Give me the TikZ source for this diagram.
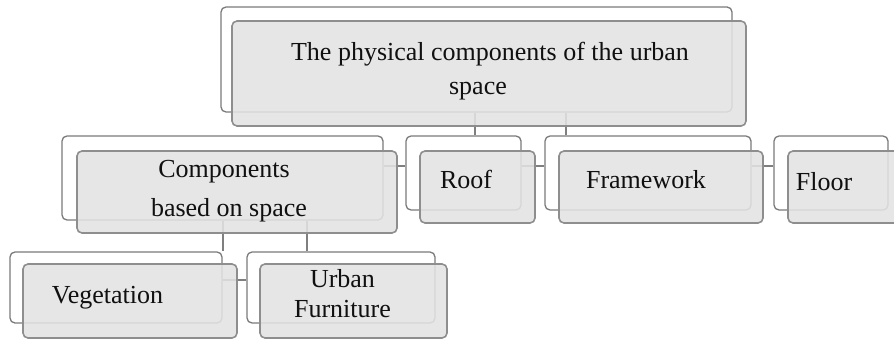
\documentclass[tikz,border=0pt]{standalone}
\usepackage{fontspec}
\setmainfont{Liberation Serif}
\definecolor{boxline}{HTML}{7A7A7A}
\definecolor{frontline}{HTML}{8E8E8E}
\definecolor{frontfill}{HTML}{E3E3E3}
\definecolor{connline}{HTML}{7F7F7F}
\definecolor{txt}{HTML}{101010}
\begin{document}
\begin{tikzpicture}[x=1pt,y=-1pt,
  backbox/.style={draw=boxline, line width=1.3pt, fill=white, rounded corners=5pt, inner sep=0pt},
  frontbox/.style={draw=frontline, line width=1.6pt, fill=frontfill, fill opacity=0.88, rounded corners=5pt, inner sep=0pt},
  conn/.style={draw=connline, line width=2pt},
  lbl/.style={font=\fontsize{26}{30}\selectfont, inner sep=0pt, align=center, text=txt}]
\useasboundingbox (0,0) rectangle (894,340);
% back boxes
\node[backbox, minimum width=511, minimum height=105] (tB) at (476.5,59.5) {};
\node[backbox, minimum width=321, minimum height=84] (cB) at (222.5,178) {};
\node[backbox, minimum width=115, minimum height=74] (rB) at (463.5,173) {};
\node[backbox, minimum width=206, minimum height=74] (fB) at (648,173) {};
\node[backbox, minimum width=114, minimum height=74] (lB) at (831,173) {};
\node[backbox, minimum width=212, minimum height=71] (vB) at (116,287.5) {};
\node[backbox, minimum width=188, minimum height=71] (uB) at (341,287.5) {};
% connectors
\draw[conn] ([xshift=11.5pt]rB.north) -- ([xshift=11.5pt]rB.north |- tB.south);
\draw[conn] ([xshift=-82pt]fB.north) -- ([xshift=-82pt]fB.north |- tB.south);
\draw[conn] ([yshift=7pt]rB.west) -- ([yshift=7pt]rB.west -| cB.east);
\draw[conn] ([yshift=7pt]fB.west) -- ([yshift=7pt]fB.west -| rB.east);
\draw[conn] ([yshift=7pt]lB.west) -- ([yshift=7pt]lB.west -| fB.east);
\draw[conn] (cB.south) -- (cB.south |- vB.north);
\draw[conn] ([xshift=-34pt]uB.north) -- ([xshift=-34pt]uB.north |- cB.south);
\draw[conn] ([yshift=7.5pt]uB.west) -- ([yshift=7.5pt]uB.west -| vB.east);
% front boxes
\node[frontbox, minimum width=514, minimum height=105] (tF) at (489,73.5) {};
\node[frontbox, minimum width=320, minimum height=82] (cF) at (237,192) {};
\node[frontbox, minimum width=115, minimum height=72] (rF) at (477.5,187) {};
\node[frontbox, minimum width=204, minimum height=72] (fF) at (661,187) {};
\node[frontbox, minimum width=114, minimum height=72] (lF) at (845,187) {};
\node[frontbox, minimum width=214, minimum height=74] (vF) at (130,301) {};
\node[frontbox, minimum width=187, minimum height=74] (uF) at (353.5,301) {};
% labels
\node[lbl, font=\fontsize{26}{34}\selectfont] (tT) at (490,71) {The physical components of the urban\\\hspace*{-24pt}space};
\node[lbl, font=\fontsize{26}{39}\selectfont] (cT) at (224,191.5) {Components\\\hspace*{10pt}based on space};
\node[lbl, anchor=base] (rT) at (466,188) {Roof};
\node[lbl, anchor=base] (fT) at (646,188) {Framework};
\node[lbl, anchor=base] (lT) at (824,190) {Floor};
\node[lbl, anchor=base] (vT) at (107.5,303) {Vegetation};
\node[lbl, font=\fontsize{26}{30}\selectfont] (uT) at (342.5,294) {Urban\\Furniture};
\end{tikzpicture}
\end{document}
